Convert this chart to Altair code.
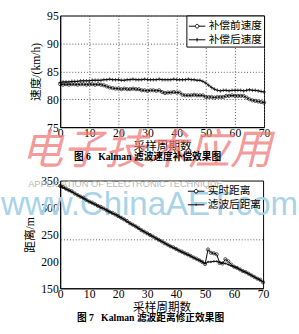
import altair as alt
import pandas as pd

FONT = "Liberation Serif, Noto Sans CJK SC"

# ---------- data ----------
cycles = list(range(71))

speed_before = [82.7, 82.6, 82.7, 82.6, 82.7, 82.7, 82.6, 82.7, 82.7, 82.6, 82.7, 82.7, 82.6, 82.7, 82.6,
                82.5, 82.3, 82.1, 82.0, 81.9,
                81.9, 81.8, 81.9, 81.8, 81.8, 81.9, 81.8, 81.8,
                81.6, 81.6, 81.5, 81.6, 81.6, 81.5, 81.6,
                81.3, 81.1,
                81.2, 81.2, 81.3, 81.2, 81.2,
                80.8, 80.7, 80.7, 80.7, 80.8, 80.7, 80.7, 80.7,
                80.4, 80.4, 80.4, 80.3, 80.4, 80.4, 80.4,
                80.6, 80.6, 80.7, 80.6, 80.6, 80.6, 80.6,
                80.3, 80.0, 79.8, 79.7, 79.6, 79.5, 79.4]

speed_after = [83.0, 83.1, 83.1, 83.1, 83.2, 83.2, 83.2, 83.3, 83.3, 83.3, 83.3, 83.4, 83.4, 83.4, 83.4,
               83.5, 83.5, 83.6, 83.5, 83.5, 83.5, 83.4, 83.4, 83.5, 83.5, 83.6, 83.5, 83.5, 83.5, 83.6,
               83.5, 83.5, 83.5, 83.5, 83.6, 83.5, 83.5, 83.5, 83.5, 83.6, 83.5, 83.5, 83.5, 83.5, 83.6,
               83.5, 83.5, 83.4, 83.4,
               83.2, 82.9, 82.5, 82.1, 81.8, 81.6,
               81.5, 81.6, 81.6, 81.5, 81.6, 81.6, 81.6, 81.6, 81.5, 81.6, 81.7, 81.6, 81.6, 81.5, 81.4, 81.3]

dist_real = [340, 338, 335, 332, 330, 326, 323, 320, 318, 314, 311,
             309, 306, 303, 301, 298, 295, 292, 290, 287, 284,
             281, 278, 275, 271, 268, 265, 262, 258, 255, 252,
             249, 246, 243, 240, 237, 234, 231, 228, 226, 223,
             220, 218, 215, 213, 210, 207, 205, 202, 199, 195,
             222, 216, 215, 213, 197, 196, 204, 200, 194, 190,
             188, 185, 182, 180, 177, 174, 171, 168, 166, 161]

dist_filt = [340, 337, 334, 332, 329, 326, 323, 320, 317, 314, 311,
             308, 306, 303, 300, 298, 295, 292, 289, 287, 284,
             281, 278, 274, 271, 268, 265, 261, 258, 255, 252,
             249, 246, 243, 240, 237, 234, 231, 228, 225, 223,
             220, 217, 215, 212, 210, 207, 204, 202, 199, 196,
             199, 199, 200, 200, 198, 197, 196, 194, 192, 190,
             188, 185, 182, 180, 177, 174, 171, 168, 165, 162]

speed_names = ["补偿前速度", "补偿后速度"]
dist_names = ["实时距离", "滤波后距离"]
ref_line = [240]

x_ticks = [0, 10, 20, 30, 40, 50, 60, 70]
speed_ticks = [75, 80, 85, 90, 95]
dist_ticks = [150, 200, 250, 300, 350]

caption_top = ["图 6\u00a0\u00a0\u00a0Kalman 滤波速度补偿效果图"]
caption_bottom = ["图 7\u00a0\u00a0\u00a0Kalman 滤波距离修正效果图"]
wm_red = ["电子技术应用"]
wm_grey = ["APPLICATION OF ELECTRONIC TECHNIQUE"]
wm_blue = ["www.ChinaAET.com"]

# ---------- shapes ----------
plus_path = "M-1,0L1,0M0,-1L0,1"
leg_circle = "M-1,0L-0.22,0M0.22,0L1,0M-0.22,0A0.22,0.22 0 1,0 0.22,0A0.22,0.22 0 1,0 -0.22,0"
leg_plus = "M-1,0L1,0M0,-0.22L0,0.22"
leg_dot = "M-1,0L1,0M0,-0.12L0,0.12"

df_speed = pd.DataFrame({"x": cycles * 2, "v": speed_before + speed_after,
                         "s": [speed_names[0]] * 71 + [speed_names[1]] * 71})
df_dist = pd.DataFrame({"x": cycles * 2, "v": dist_real + dist_filt,
                        "s": [dist_names[0]] * 71 + [dist_names[1]] * 71})
df_ref = pd.DataFrame({"r": ref_line})


def axis_x(grid):
    return alt.Axis(values=x_ticks, title="采样周期数", grid=grid, gridDash=[1, 2],
                    gridColor="#555", labelFlush=False, labelOverlap=False, ticks=False,
                    labelPadding=1, titlePadding=2)


def axis_y(vals, title, grid):
    return alt.Axis(values=vals, title=title, grid=grid, gridDash=[1, 2], gridColor="#555",
                    ticks=False, labelPadding=2, titlePadding=4, labelFlush=False,
                    labelOverlap=False)


def legend(stroke):
    kw = dict(title=None, orient="top-right", offset=0, padding=2,
              symbolSize=289, symbolStrokeWidth=1, symbolStrokeColor="black",
              symbolFillColor="transparent", symbolOpacity=1,
              labelFont=FONT, labelFontSize=11, labelColor="black",
              rowPadding=0, labelOffset=3)
    if stroke:
        kw["strokeColor"] = stroke
        kw["fillColor"] = "white"
    return alt.Legend(**kw)


def text_layer(values, **mark):
    return alt.Chart(pd.DataFrame({"t": values})).mark_text(**mark).encode(text="t:N")


# ---------- top chart ----------
xs = alt.Scale(domain=[0, 70], nice=False)
ys_speed = alt.Scale(domain=[75, 95], nice=False)
ax_top = axis_x(True)
ay_top = axis_y(speed_ticks, "速度/(km/h)", True)

base_s = alt.Chart(df_speed)
line_s = base_s.mark_line(color="black", strokeWidth=1).encode(
    x=alt.X("x:Q", scale=xs, axis=ax_top),
    y=alt.Y("v:Q", scale=ys_speed, axis=ay_top),
    detail="s:N")
pts_s1 = base_s.transform_filter(alt.datum.s == speed_names[0]).mark_point(
    shape="circle", size=11, filled=False, color="black", strokeWidth=1).encode(
    x=alt.X("x:Q", scale=xs, axis=ax_top), y=alt.Y("v:Q", scale=ys_speed, axis=ay_top))
pts_s2 = base_s.transform_filter(alt.datum.s == speed_names[1]).mark_point(
    shape=plus_path, size=14, filled=False, color="black", strokeWidth=1).encode(
    x=alt.X("x:Q", scale=xs, axis=ax_top), y=alt.Y("v:Q", scale=ys_speed, axis=ay_top))
leg_s = base_s.mark_point(opacity=0, color="black", filled=False).encode(
    x=alt.X("x:Q", scale=xs, axis=ax_top), y=alt.Y("v:Q", scale=ys_speed, axis=ay_top),
    shape=alt.Shape("s:N", scale=alt.Scale(domain=speed_names, range=[leg_circle, leg_plus]),
                    legend=legend("black")))
red_mark = text_layer(wm_red, font="Noto Sans CJK SC", fontSize=43, fontWeight="normal",
                      fontStyle="italic", color="#ef7a7a", opacity=0.75, align="left",
                      baseline="alphabetic").encode(x=alt.value(-40), y=alt.value(153))
cap_top = text_layer(caption_top, font=FONT, fontSize=10, fontWeight="bold", color="black",
                     align="center", baseline="middle").encode(
    x=alt.value(90), y=alt.value(146))

top = alt.layer(red_mark, line_s, pts_s1, pts_s2, leg_s, cap_top).properties(
    width=210, height=115)

# ---------- bottom chart ----------
ys_dist = alt.Scale(domain=[150, 350], nice=False)
ax_bot = axis_x(False)
ay_bot = axis_y(dist_ticks, "距离/m", False)
base_d = alt.Chart(df_dist)
line_d = base_d.mark_line(color="black", strokeWidth=1).encode(
    x=alt.X("x:Q", scale=xs, axis=ax_bot),
    y=alt.Y("v:Q", scale=ys_dist, axis=ay_bot),
    detail="s:N")
pts_d1 = base_d.transform_filter(alt.datum.s == dist_names[0]).mark_point(
    shape="circle", size=11, filled=False, color="black", strokeWidth=1).encode(
    x=alt.X("x:Q", scale=xs, axis=ax_bot), y=alt.Y("v:Q", scale=ys_dist, axis=ay_bot))
pts_d2 = base_d.transform_filter(alt.datum.s == dist_names[1]).mark_point(
    shape=plus_path, size=6, filled=False, color="black", strokeWidth=1).encode(
    x=alt.X("x:Q", scale=xs, axis=ax_bot), y=alt.Y("v:Q", scale=ys_dist, axis=ay_bot))
leg_d = base_d.mark_point(opacity=0, color="black", filled=False).encode(
    x=alt.X("x:Q", scale=xs, axis=ax_bot), y=alt.Y("v:Q", scale=ys_dist, axis=ay_bot),
    shape=alt.Shape("s:N", scale=alt.Scale(domain=dist_names, range=[leg_circle, leg_dot]),
                    legend=legend(None)))
rule_d = alt.Chart(df_ref).mark_rule(color="#555", strokeDash=[1, 2], strokeWidth=1).encode(
    y=alt.Y("r:Q", scale=ys_dist, axis=ay_bot))
blue_mark = text_layer(wm_blue, font="Liberation Sans", fontSize=34, color="#a9d3e7",
                       align="left", baseline="alphabetic").encode(
    x=alt.value(-61), y=alt.value(36))
grey_mark = text_layer(wm_grey, font="Liberation Sans", fontSize=9.5, color="#b8b8b8",
                       align="left", baseline="alphabetic").encode(
    x=alt.value(-33), y=alt.value(7))
cap_bot = text_layer(caption_bottom, font=FONT, fontSize=10, fontWeight="bold", color="black",
                     align="center", baseline="middle").encode(
    x=alt.value(93), y=alt.value(142))

bottom = alt.layer(blue_mark, grey_mark, rule_d, line_d, pts_d1, pts_d2, leg_d, cap_bot).properties(
    width=209, height=111)

chart = alt.vconcat(top, bottom, spacing=0).resolve_legend(shape="independent").resolve_scale(
    shape="independent").properties(
    padding={"left": 0, "top": 4, "right": 0, "bottom": 2},
    background="white"
).configure_view(stroke="black", strokeWidth=1).configure_axis(
    labelFont=FONT, labelFontSize=12, labelColor="black", labelOverlap=False,
    titleFont=FONT, titleFontSize=12, titleColor="black", titleFontWeight="normal",
    domainColor="black", domainWidth=1
)

chart.save("out.html", embed_options={"renderer": "svg", "actions": False})
